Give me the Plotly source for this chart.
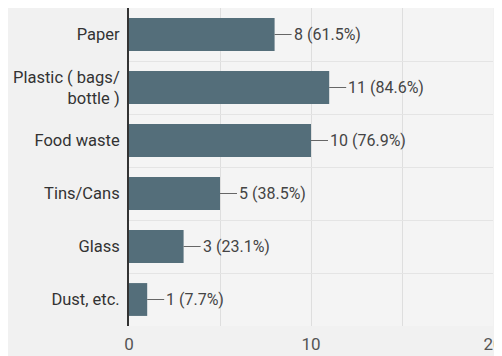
import plotly.graph_objects as go

# 응답 항목 (위에서 아래 순서)
categories = ["Paper", "Plastic ( bags/<br>bottle )", "Food waste", "Tins/Cans", "Glass", "Dust, etc."]
counts = [8, 11, 10, 5, 3, 1]
percents = [61.5, 84.6, 76.9, 38.5, 23.1, 7.7]
x_ticks = [0, 10, 20]

fig = go.Figure()

fig.add_trace(go.Bar(
    x=counts,
    y=categories,
    orientation="h",
    marker=dict(color="#546e7a", line=dict(width=0)),
    width=0.62,
    hoverinfo="skip",
))

# 값 라벨: 막대 끝에서 짧은 선으로 연결
for c, cat, p in zip(counts, categories, percents):
    fig.add_annotation(
        x=c, y=cat,
        text=f"{c} ({p}%)",
        showarrow=True, arrowhead=0, arrowwidth=1, arrowcolor="#666",
        ax=17, ay=0, xanchor="left",
        font=dict(size=16, color="#444"),
    )

# 페이지 body 기본 여백(8px)을 고려한 여백
fig.update_layout(
    width=502, height=356,
    margin=dict(l=121, r=17, t=0, b=38),
    paper_bgcolor="#f1f1f1",
    plot_bgcolor="#f4f4f4",
    showlegend=False,
    font=dict(family="Roboto, Arial, sans-serif", size=16, color="#333"),
    xaxis=dict(
        range=[0, 20],
        tickvals=x_ticks,
        showgrid=True, gridcolor="#dedede",
        minor=dict(dtick=5, tick0=0, showgrid=True, gridcolor="#dedede"),
        zeroline=False,
        tickfont=dict(size=17, color="#555"),
        ticks="",
        ticklabelstandoff=6,
        ticklabeloverflow="allow",
        automargin=False,
    ),
    yaxis=dict(
        categoryorder="array",
        categoryarray=categories[::-1],
        tickson="boundaries",
        showgrid=True, gridcolor="#e4e4e4",
        showline=True, linecolor="#333", linewidth=2,
        ticks="",
        ticklabelstandoff=4,
        tickfont=dict(size=16.5, color="#333"),
        automargin=False,
    ),
)

fig.write_html("out.html")
